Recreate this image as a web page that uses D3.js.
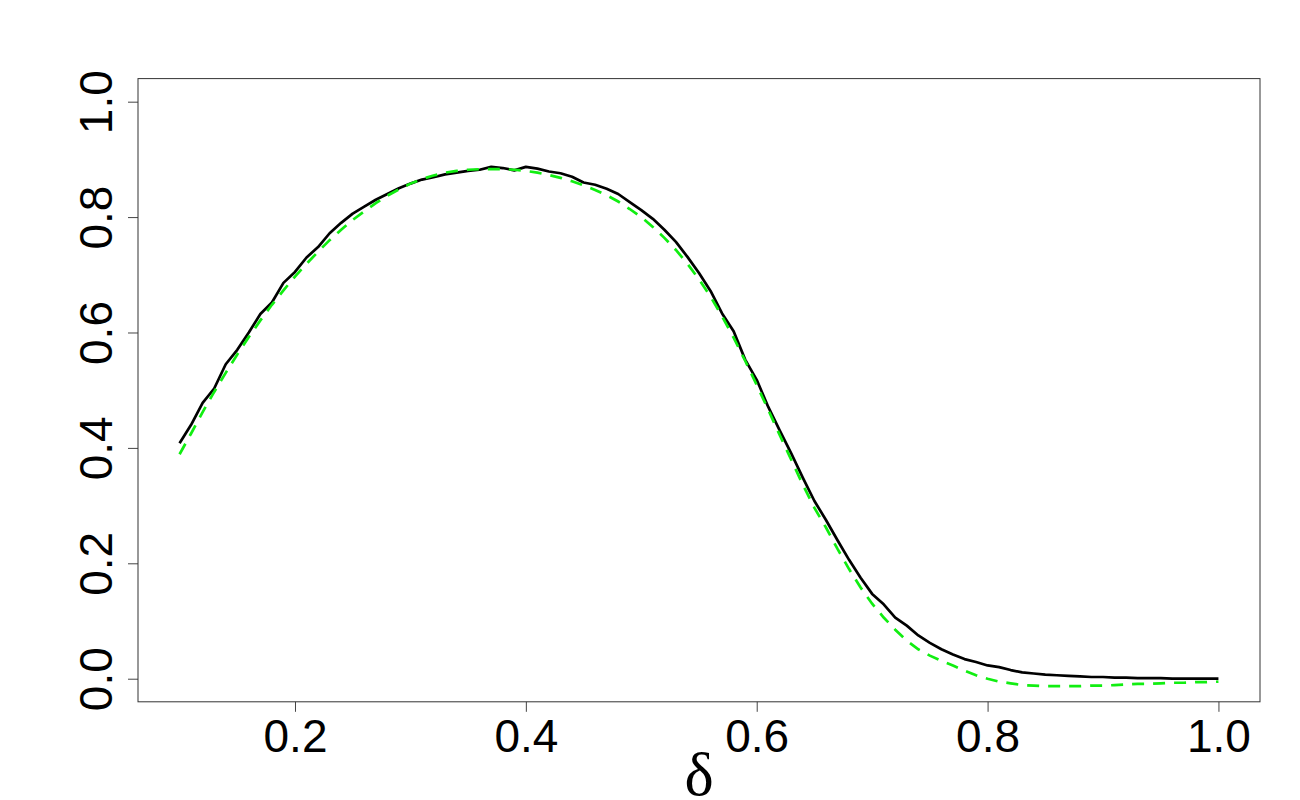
<!DOCTYPE html>
<html>
<head>
<meta charset="utf-8">
<script src="https://cdn.jsdelivr.net/npm/d3@7"></script>
<style>
  body { margin: 0; background: #fff; }
  svg { display: block; }
</style>
</head>
<body>
<div id="container"><svg></svg></div>
<script>
let width = 1300
let height = 800
let fontFamily = "'Liberation Sans', Arial, sans-serif"

// delta grid 0.10 .. 1.00, step 0.01
let delta = d3.range(10, 101).map(d => d / 100)

// simulated (black, solid)
let simulated = [
    0.408, 0.440, 0.478, 0.503, 0.545, 0.570, 0.600, 0.632, 0.652, 0.686,
    0.705, 0.730, 0.748, 0.772, 0.790, 0.806, 0.818, 0.830, 0.840, 0.850,
    0.858, 0.865, 0.869, 0.874, 0.877, 0.880, 0.882, 0.887, 0.885, 0.881,
    0.887, 0.884, 0.879, 0.876, 0.870, 0.860, 0.856, 0.849, 0.840, 0.826,
    0.812, 0.797, 0.778, 0.757, 0.731, 0.703, 0.672, 0.633, 0.602, 0.553,
    0.518, 0.471, 0.430, 0.390, 0.348, 0.308, 0.275, 0.240, 0.206, 0.175,
    0.147, 0.129, 0.106, 0.092, 0.075, 0.062, 0.051, 0.042, 0.034, 0.029,
    0.023, 0.020, 0.015, 0.011, 0.009, 0.007, 0.006, 0.005, 0.004, 0.003,
    0.003, 0.002, 0.002, 0.001, 0.001, 0.001, 0.000, 0.000, 0.000, 0.000,
    0.000
]

// approximation (green, dashed)
let approx = [
    0.389, 0.425, 0.462, 0.497, 0.530, 0.562, 0.592, 0.621, 0.648, 0.673,
    0.697, 0.719, 0.740, 0.760, 0.778, 0.795, 0.810, 0.824, 0.837, 0.848,
    0.858, 0.866, 0.872, 0.877, 0.880, 0.882, 0.883, 0.883, 0.883, 0.882,
    0.880, 0.877, 0.873, 0.868, 0.862, 0.855, 0.847, 0.838, 0.827, 0.814,
    0.800, 0.783, 0.764, 0.743, 0.719, 0.692, 0.662, 0.628, 0.591, 0.551,
    0.509, 0.466, 0.422, 0.379, 0.336, 0.296, 0.262, 0.225, 0.190, 0.158,
    0.130, 0.106, 0.085, 0.066, 0.051, 0.040, 0.031, 0.023, 0.014, 0.006,
    0.000, -0.005, -0.008, -0.011, -0.012, -0.013, -0.013, -0.013, -0.013, -0.012,
    -0.012, -0.011, -0.010, -0.009, -0.009, -0.008, -0.007, -0.007, -0.006, -0.006,
    -0.005
]

let x_ticks = [0.2, 0.4, 0.6, 0.8, 1.0]
let y_ticks = [0.0, 0.2, 0.4, 0.6, 0.8, 1.0]

function draw_main() {
    let padding = { 'left': 138, 'right': 40, 'top': 78.6, 'bottom': 98.2 }
    let svg = d3.select('#container')
        .select('svg')
        .attr('width', width)
        .attr('height', height)

    // R-style 4% axis extension
    let x = d3.scaleLinear()
        .domain([0.064, 1.036])
        .range([padding.left, width - padding.right])
    let y = d3.scaleLinear()
        .domain([-0.04, 1.04])
        .range([height - padding.bottom, padding.top])

    // x axis
    let gx = svg.append('g')
        .attr('transform', `translate(0, ${height - padding.bottom})`)
        .call(d3.axisBottom(x).tickValues(x_ticks).tickSize(10).tickFormat(d3.format('.1f')))
    gx.select('.domain').remove()
    gx.selectAll('line').attr('stroke', '#444')
    gx.selectAll('text')
        .attr('y', 50)
        .attr('dy', null)
        .attr('fill', '#000')
        .attr('font-family', fontFamily)
        .attr('font-size', 46)

    // y axis
    let gy = svg.append('g')
        .attr('transform', `translate(${padding.left}, 0)`)
        .call(d3.axisLeft(y).tickValues(y_ticks).tickSize(10).tickFormat(d3.format('.1f')))
    gy.select('.domain').remove()
    gy.selectAll('line').attr('stroke', '#444')
    gy.selectAll('text')
        .attr('x', null)
        .attr('dy', null)
        .attr('text-anchor', 'middle')
        .attr('transform', 'translate(-26, 0) rotate(-90)')
        .attr('fill', '#000')
        .attr('font-family', fontFamily)
        .attr('font-size', 46)

    // box
    svg.append('rect')
        .attr('x', padding.left)
        .attr('y', padding.top)
        .attr('width', width - padding.left - padding.right)
        .attr('height', height - padding.top - padding.bottom)
        .attr('fill', 'none')
        .attr('stroke', '#333')
        .attr('stroke-width', 1)

    // x label
    svg.append('text')
        .attr('x', (padding.left + width - padding.right) / 2)
        .attr('y', 795)
        .attr('text-anchor', 'middle')
        .attr('font-family', "'Liberation Serif', 'DejaVu Serif', serif")
        .attr('font-size', 62)
        .text('δ')

    let line_sim = d3.line()
        .x((d, i) => x(delta[i]))
        .y(d => y(d))
    
    svg.append('path')
        .datum(simulated)
        .attr('d', line_sim)
        .attr('fill', 'none')
        .attr('stroke', '#000')
        .attr('stroke-width', 2.7)
        .attr('stroke-linejoin', 'round')

    svg.append('path')
        .datum(approx)
        .attr('d', line_sim)
        .attr('fill', 'none')
        .attr('stroke', '#11ee11')
        .attr('stroke-width', 2.7)
        .attr('stroke-dasharray', '12,9')
}

draw_main()
</script>
</body>
</html>
